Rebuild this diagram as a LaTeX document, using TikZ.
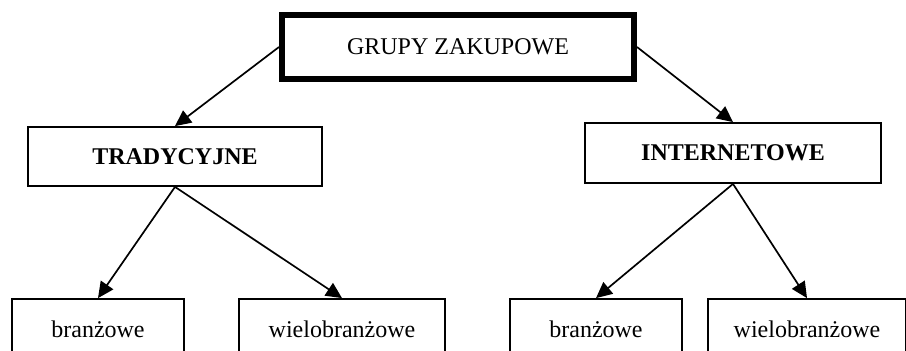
\documentclass[tikz,border=0pt]{standalone}
\usepackage{fontspec}
\setmainfont{Liberation Serif}
\usetikzlibrary{arrows.meta}

\tikzset{
	box/.style={draw, line width=1.8pt, inner sep=0pt, font=\fontsize{24}{28}\selectfont},
	bigbox/.style={box, line width=6pt},
	arr/.style={line width=1.7pt, -{Triangle[length=16pt,width=15pt]}}
}

\begin{document}
\begin{tikzpicture}[x=1pt, y=1pt]
			%%%%% START %%%%%
			\clip (0, 0) rectangle (906, 351);
			
			\node[bigbox, minimum width=352pt, minimum height=64pt] (grupy) at (458, 304) {GRUPY ZAKUPOWE};
			
			\node[box, minimum width=294pt, minimum height=59pt] (trad) at (175, 194.5) {\textbf{TRADYCYJNE}};
			\node[box, minimum width=296pt, minimum height=60pt] (inter) at (733, 198) {\textbf{INTERNETOWE}};
			
			\node[box, minimum width=172pt, minimum height=60pt] (branzT) at (98, 22) {branżowe};
			\node[box, minimum width=206pt, minimum height=60pt] (wieloT) at (342, 22) {wielobranżowe};
			\node[box, minimum width=172pt, minimum height=60pt] (branzI) at (596, 22) {branżowe};
			\node[box, minimum width=198pt, minimum height=60pt] (wieloI) at (807, 22) {wielobranżowe};
			
			\draw[arr] (grupy.west) -- (trad.north);
			\draw[arr] (grupy.east) -- (inter.north);
			
			\draw[arr] (trad.south) -- (branzT.north);
			\draw[arr] (trad.south) -- (wieloT.north);
			\draw[arr] (inter.south) -- (branzI.north);
			\draw[arr] (inter.south) -- (wieloI.north);
			%%%%% END %%%%%
\end{tikzpicture}
\end{document}
